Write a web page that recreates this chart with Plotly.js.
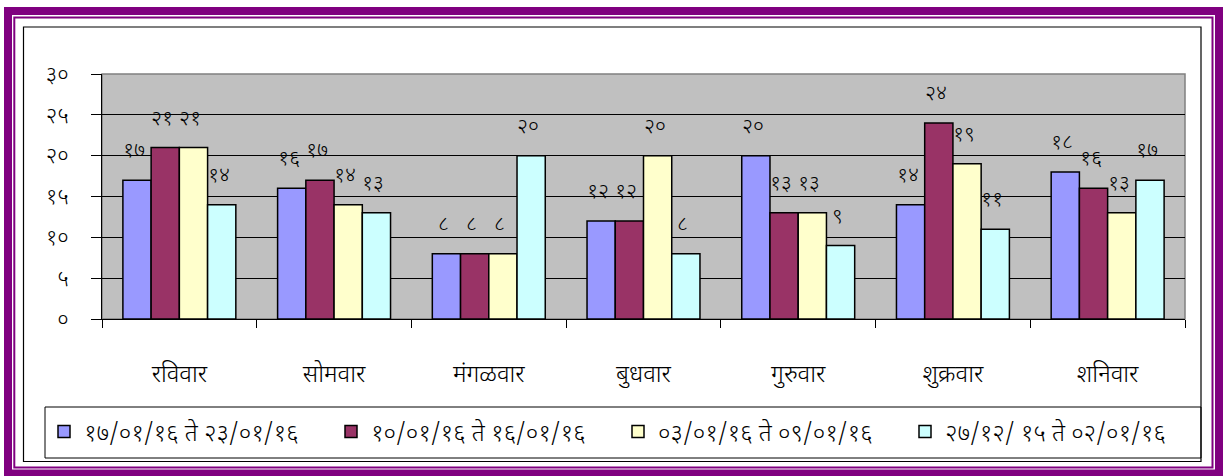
<!DOCTYPE html>
<html>
<head>
<meta charset="utf-8">
<script src="https://cdn.plot.ly/plotly-3.0.1.min.js"></script>
<style>
  html, body { margin: 0; padding: 0; background: #ffffff; }
  #chart { width: 1223px; height: 476px; }
</style>
</head>
<body>
<div id="chart"></div>
<script>
// ---- data ----
const categories = ['रविवार', 'सोमवार', 'मंगळवार', 'बुधवार', 'गुरुवार', 'शुक्रवार', 'शनिवार'];
const seriesNames = [
  '१७/०१/१६ ते २३/०१/१६',
  '१०/०१/१६ ते १६/०१/१६',
  '०३/०१/१६ ते ०९/०१/१६',
  '२७/१२/ १५ ते ०२/०१/१६'
];
const week1 = [17, 16, 8, 12, 20, 14, 18];
const week2 = [21, 17, 8, 12, 13, 24, 16];
const week3 = [21, 14, 8, 20, 13, 19, 13];
const week4 = [14, 13, 20, 8, 9, 11, 17];
const yTickValues = [0, 5, 10, 15, 20, 25, 30];

// ---- styling ----
const colors = ['#9999FF', '#993366', '#FFFFCC', '#CCFFFF'];
const FONT = 'Noto Sans Devanagari, Lohit Devanagari, Noto Sans, DejaVu Sans, sans-serif';
const W = 1223, H = 476;
const ML = 102, MR = 38, MT = 74, MB = 157;
const PW = W - ML - MR, PH = H - MT - MB;
const BARGAP = 0.27;

const devDigits = ['०','१','२','३','४','५','६','७','८','९'];
function toDev(n) { return String(n).split('').map(c => /[0-9]/.test(c) ? devDigits[+c] : c).join(''); }
function X(px) { return (px - ML) / PW; }
function Y(py) { return 1 - (py - MT) / PH; }

const allSeries = [week1, week2, week3, week4];
const traces = allSeries.map((vals, i) => ({
  type: 'bar',
  name: seriesNames[i],
  x: categories,
  y: vals,
  marker: { color: colors[i], line: { color: '#000000', width: 1.5 } },
  hoverinfo: 'skip'
}));

const barW = PW / categories.length * (1 - BARGAP) / allSeries.length;
const annotations = [];
allSeries.forEach((vals, i) => {
  vals.forEach((v, j) => {
    annotations.push({
      x: categories[j], y: v, xref: 'x', yref: 'y',
      text: toDev(v), showarrow: false,
      xshift: (i - 1.5) * barW - 3, yshift: 28,
      font: { family: FONT, size: 21, color: '#000000', weight: 300 }
    });
  });
});

const shapes = [
  // outer thick purple frame
  { type: 'rect', xref: 'paper', yref: 'paper', x0: X(8), x1: X(1219), y0: Y(11), y1: Y(473.5),
    line: { color: '#800080', width: 8 }, fillcolor: 'rgba(0,0,0,0)', layer: 'above' },
  // inner thin purple frame
  { type: 'rect', xref: 'paper', yref: 'paper', x0: X(14.3), x1: X(1212.5), y0: Y(17.5), y1: Y(467.5),
    line: { color: '#800080', width: 2 }, fillcolor: 'rgba(0,0,0,0)', layer: 'above' },
  // chart area border
  { type: 'rect', xref: 'paper', yref: 'paper', x0: X(23.5), x1: X(1201), y0: Y(27), y1: Y(461.5),
    line: { color: '#000000', width: 1.2 }, fillcolor: 'rgba(0,0,0,0)', layer: 'above' },
  // legend box
  { type: 'rect', xref: 'paper', yref: 'paper', x0: X(45), x1: X(1201), y0: Y(407), y1: Y(458),
    line: { color: '#000000', width: 1 }, fillcolor: 'rgba(0,0,0,0)', layer: 'above' },
  // plot area grey border
  { type: 'rect', xref: 'paper', yref: 'paper', x0: 0, x1: 1, y0: 0, y1: 1,
    line: { color: '#808080', width: 1.5 }, fillcolor: 'rgba(0,0,0,0)', layer: 'between' }
];

const layout = {
  width: W, height: H,
  margin: { l: ML, r: MR, t: MT, b: MB, pad: 0 },
  paper_bgcolor: '#ffffff',
  plot_bgcolor: '#C0C0C0',
  font: { family: FONT, color: '#000000' },
  barmode: 'group',
  bargap: BARGAP,
  bargroupgap: 0,
  showlegend: true,
  legend: {
    orientation: 'h',
    x: X(44), xanchor: 'left',
    y: Y(432), yanchor: 'middle',
    bgcolor: 'rgba(0,0,0,0)',
    borderwidth: 0,
    font: { family: FONT, size: 24, color: '#000000', weight: 300 },
    entrywidth: 242, entrywidthmode: 'pixels',
    traceorder: 'normal'
  },
  xaxis: {
    type: 'category',
    showline: true, linecolor: '#000000', linewidth: 1,
    ticks: 'outside', tickson: 'boundaries', ticklen: 8, tickcolor: '#000000', tickwidth: 1,
    showgrid: false,
    tickfont: { family: FONT, size: 24, color: '#000000', weight: 300 },
    ticklabelstandoff: 33,
    fixedrange: true
  },
  yaxis: {
    range: [0, 30],
    tickvals: yTickValues,
    ticktext: yTickValues.map(toDev),
    showline: true, linecolor: '#000000', linewidth: 1,
    ticks: 'outside', ticklen: 10, tickcolor: '#000000', tickwidth: 1,
    showgrid: true, gridcolor: '#000000', gridwidth: 1,
    zeroline: false,
    tickfont: { family: FONT, size: 22, color: '#000000', weight: 300 },
    ticklabelstandoff: 18,
    fixedrange: true
  },
  shapes: shapes,
  annotations: annotations
};

Plotly.newPlot('chart', traces, layout, { displayModeBar: false, staticPlot: true });
</script>
</body>
</html>
